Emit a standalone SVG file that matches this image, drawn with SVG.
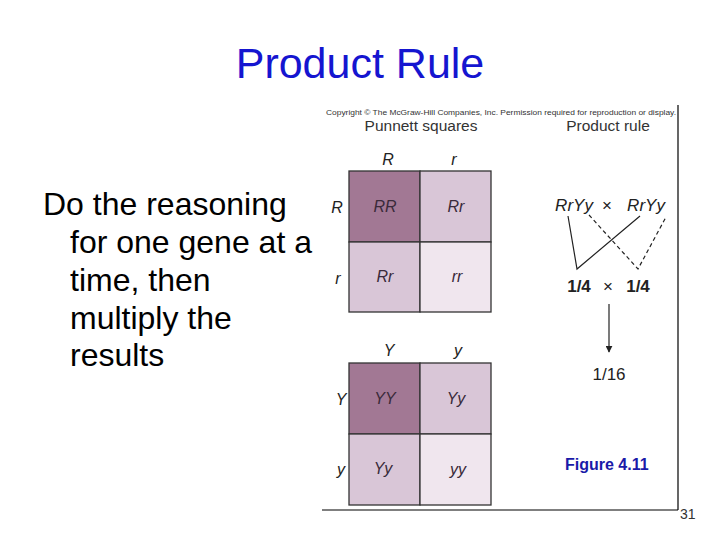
<svg xmlns="http://www.w3.org/2000/svg" width="720" height="540" viewBox="0 0 720 540">
<style>
.sans{font-family:"Liberation Sans",Arial,sans-serif}
.title{font-size:43px;fill:#1515d0}
.body{font-size:32px;fill:#000}
.hdr{font-size:15.5px;fill:#333}
.cell{font-size:16px;font-style:italic;fill:#3a2a3a}
.lab{font-size:16px;font-style:italic;fill:#222}
.pr{font-size:17px;fill:#222}
.cellbox{stroke:#333;stroke-width:1.3}
.d{fill:#a27894}.m{fill:#d9c6d7}.l{fill:#f0e6ee}
</style>
<rect width="720" height="540" fill="#fff"/>
<g id="title"><text class="sans title" x="360" y="78" text-anchor="middle">Product Rule</text></g>
<g id="bodytext" class="sans body">
<text x="43" y="215">Do the reasoning</text>
<text x="70" y="253">for one gene at a</text>
<text x="70" y="291">time, then</text>
<text x="70" y="329">multiply the</text>
<text x="70" y="366">results</text>
</g>
<g id="frame" stroke="#000" stroke-width="1.2" fill="none">
<line x1="678" y1="105" x2="678" y2="510"/>
<line x1="322" y1="510" x2="678" y2="510"/>
</g>
<g id="header" class="sans">
<text x="326" y="115" font-size="7.5" fill="#333" textLength="350" lengthAdjust="spacingAndGlyphs">Copyright © The McGraw-Hill Companies, Inc. Permission required for reproduction or display.</text>
<text class="hdr" x="421" y="131" text-anchor="middle">Punnett squares</text>
<text class="hdr" x="608" y="131" text-anchor="middle">Product rule</text>
</g>
<g id="punnett-R" class="sans">
<rect class="d cellbox" x="349" y="171" width="71" height="71"/>
<rect class="m cellbox" x="420" y="171" width="71" height="71"/>
<rect class="m cellbox" x="349" y="242" width="71" height="70"/>
<rect class="l cellbox" x="420" y="242" width="71" height="70"/>
<text class="lab" x="388" y="165" text-anchor="middle">R</text>
<text class="lab" x="454" y="165" text-anchor="middle">r</text>
<text class="lab" x="337" y="213" text-anchor="middle">R</text>
<text class="lab" x="338" y="284" text-anchor="middle">r</text>
<text class="cell" x="385" y="212" text-anchor="middle">RR</text>
<text class="cell" x="456" y="212" text-anchor="middle">Rr</text>
<text class="cell" x="385" y="282" text-anchor="middle">Rr</text>
<text class="cell" x="457" y="282" text-anchor="middle">rr</text>
</g>
<g id="punnett-Y" class="sans">
<rect class="d cellbox" x="349" y="363" width="71" height="71"/>
<rect class="m cellbox" x="420" y="363" width="71" height="71"/>
<rect class="m cellbox" x="349" y="434" width="71" height="71"/>
<rect class="l cellbox" x="420" y="434" width="71" height="71"/>
<text class="lab" x="389" y="356" text-anchor="middle">Y</text>
<text class="lab" x="458" y="356" text-anchor="middle">y</text>
<text class="lab" x="341" y="405" text-anchor="middle">Y</text>
<text class="lab" x="341" y="475" text-anchor="middle">y</text>
<text class="cell" x="385" y="404" text-anchor="middle">YY</text>
<text class="cell" x="456" y="404" text-anchor="middle">Yy</text>
<text class="cell" x="383" y="474" text-anchor="middle">Yy</text>
<text class="cell" x="458" y="475" text-anchor="middle">yy</text>
</g>
<g id="product-rule" class="sans">
<text class="pr" x="574" y="211" text-anchor="middle" font-style="italic" font-size="19">RrYy</text>
<text class="pr" x="607" y="211" text-anchor="middle">×</text>
<text class="pr" x="646" y="211" text-anchor="middle" font-style="italic" font-size="19">RrYy</text>
<text class="pr" x="579" y="292" text-anchor="middle" font-weight="bold">1/4</text>
<text class="pr" x="608" y="292" text-anchor="middle">×</text>
<text class="pr" x="638" y="292" text-anchor="middle" font-weight="bold">1/4</text>
<text class="pr" x="609" y="380" text-anchor="middle" font-size="18">1/16</text>
</g>
<defs>
<marker id="ah" viewBox="0 0 10 10" refX="9" refY="5" markerWidth="7" markerHeight="7" orient="auto" markerUnits="userSpaceOnUse">
<path d="M0,0 L10,5 L0,10 Z" fill="#222"/>
</marker>
</defs>
<g id="connectors" stroke="#222" stroke-width="1.2" fill="none">
<polyline points="568,216 577,269 640,216"/>
<polyline points="589,215 638,269 666,217" stroke-dasharray="4,3"/>
<line x1="609" y1="304" x2="609" y2="352" marker-end="url(#ah)"/>
</g>
<g id="figure-label" class="sans">
<text x="565" y="470" font-size="16" font-weight="bold" fill="#1a1aa8">Figure 4.11</text>
<text x="680" y="519" font-size="14" fill="#333">31</text>
</g>
</svg>
